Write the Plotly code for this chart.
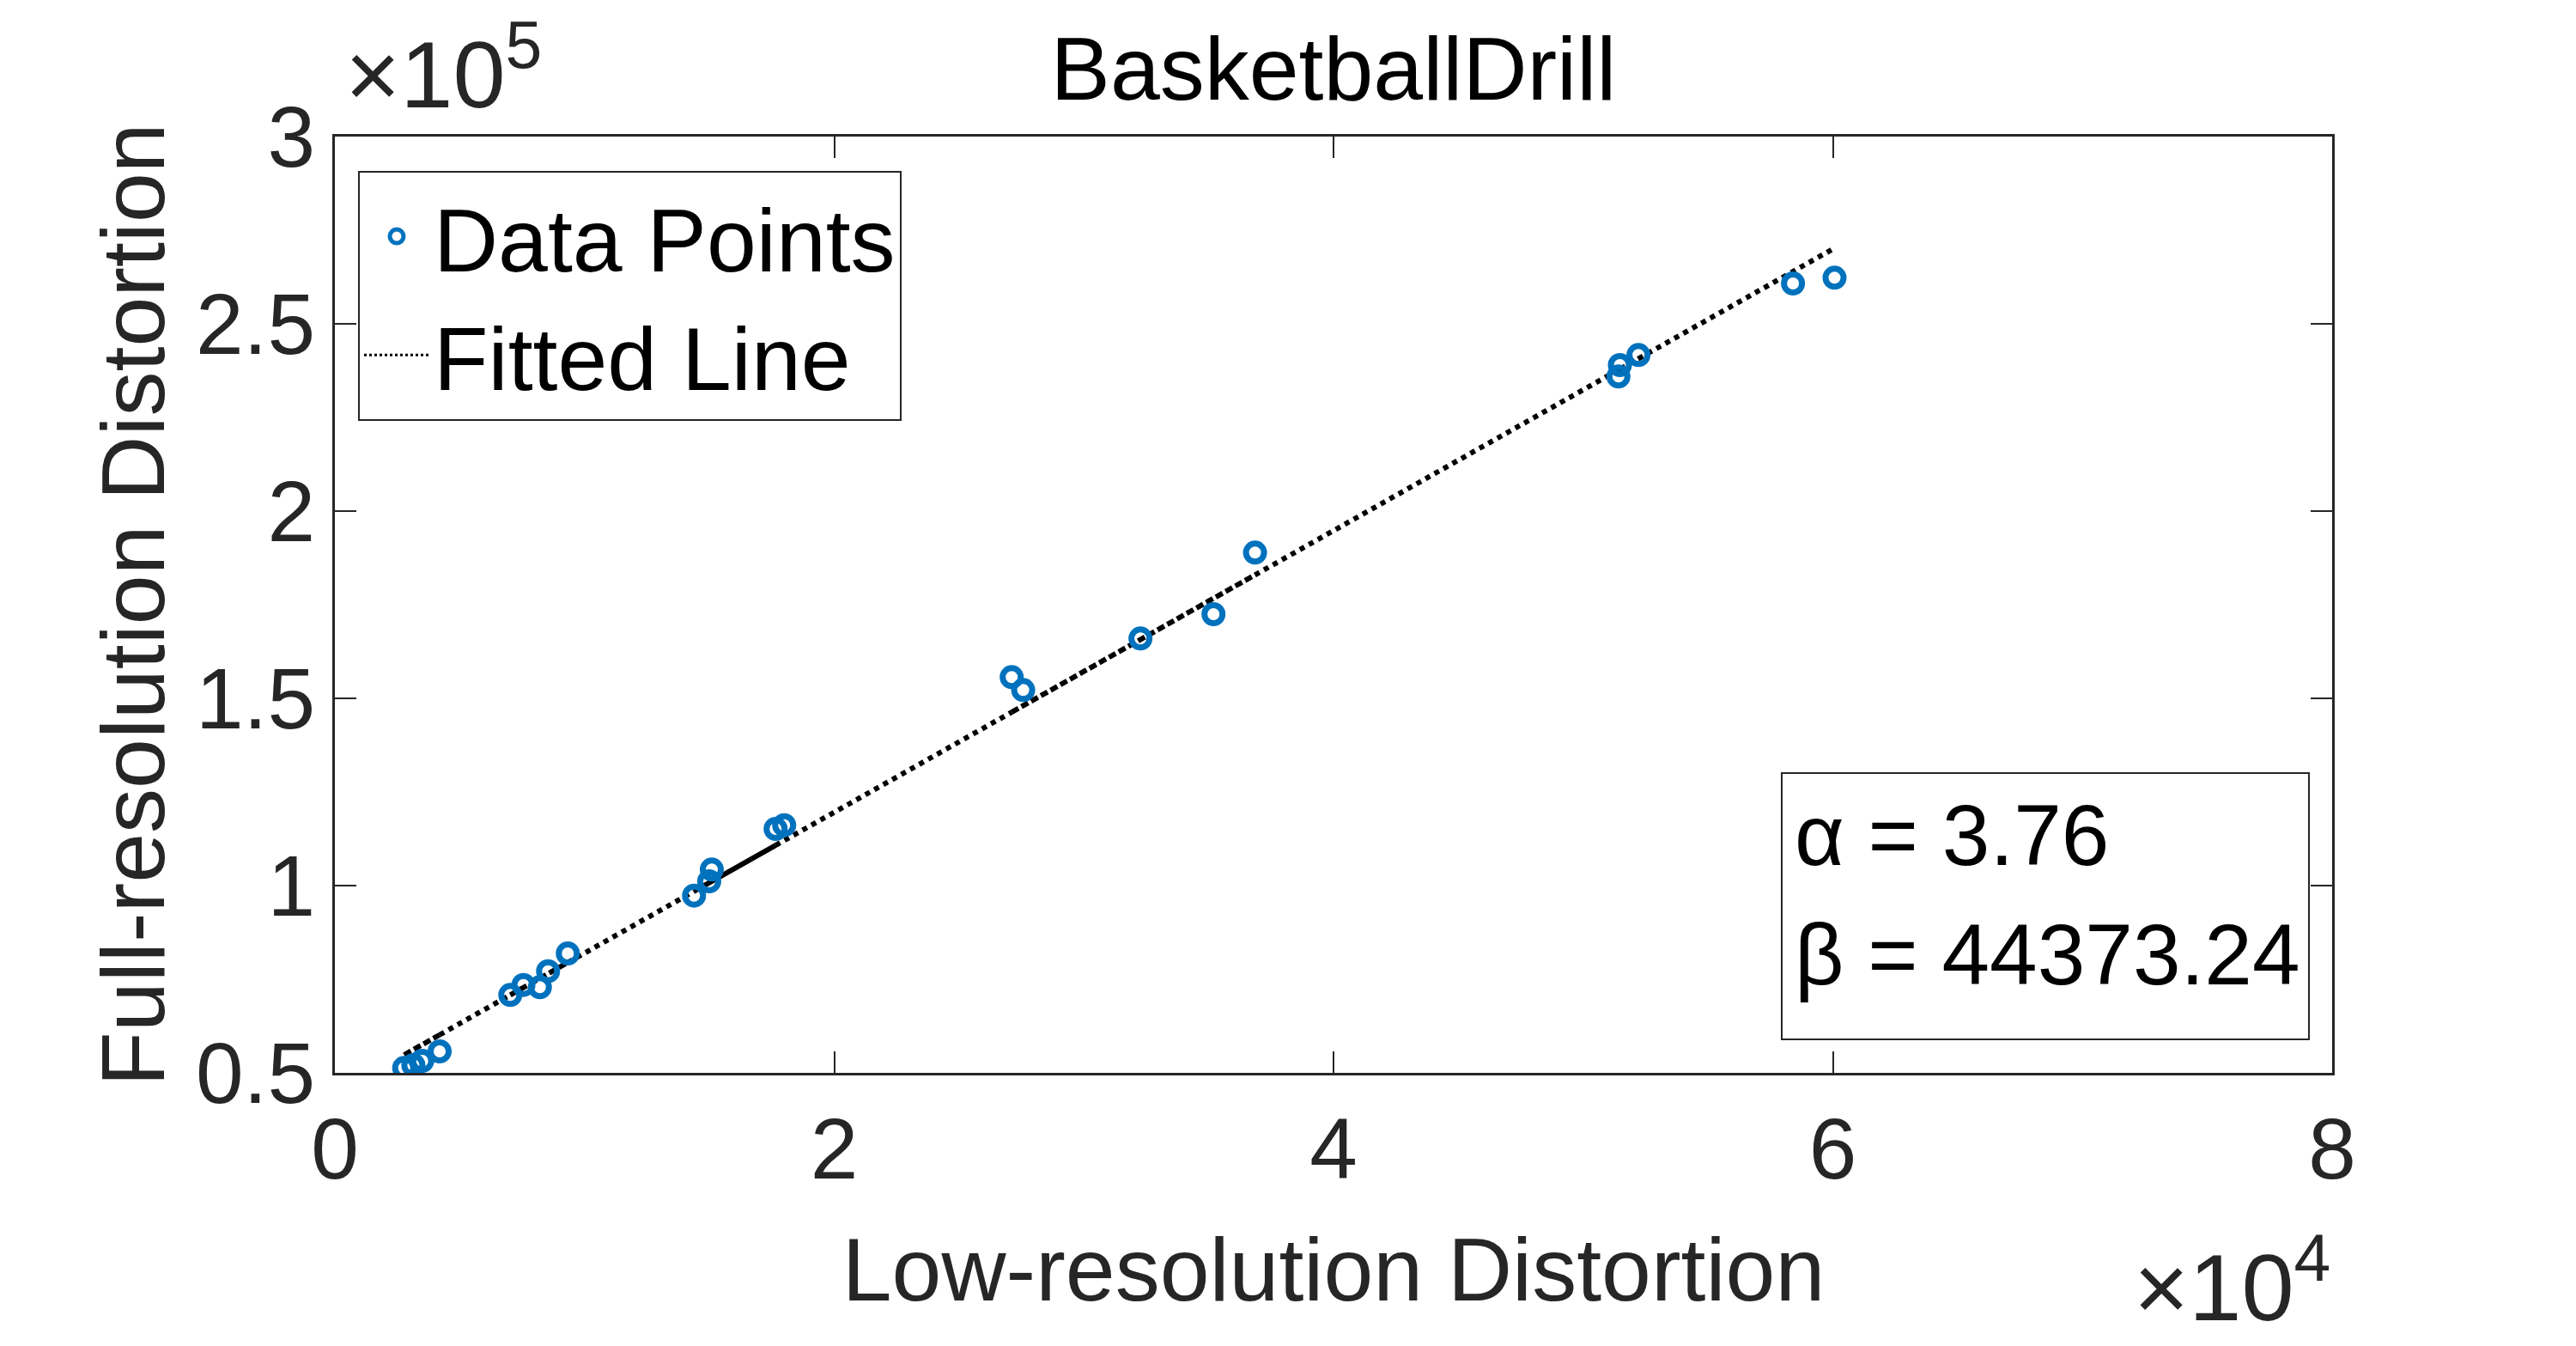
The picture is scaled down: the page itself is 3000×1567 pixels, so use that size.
import plotly.graph_objects as go

# ---- data ----
low_res = [2775, 3143, 3498, 4196, 7026, 7552, 8212, 8539, 9330,
           14386, 14994, 15097, 17653, 17997,
           27110, 27570, 32268, 35192, 36856,
           51413, 51471, 52215, 58405, 60069]
full_res = [51307, 52064, 53211, 55734, 70803, 73463, 72867, 77133, 81881,
            97317, 101147, 104290, 115138, 116124,
            155666, 152226, 165987, 172478, 188924,
            235940, 238993, 241672, 260782, 262318]

alpha = 3.76
beta = 44373.24

# portions of the fitted line that overlap themselves in the original plot
dense_ranges = [(2775, 4196), (7026, 9330), (27110, 36856), (51413, 52215)]
solid_ranges = [(14386, 17653)]

x_ticks = [0, 20000, 40000, 60000, 80000]
x_tick_text = ["0", "2", "4", "6", "8"]
y_ticks = [50000, 100000, 150000, 200000, 250000, 300000]
y_tick_text = ["0.5", "1", "1.5", "2", "2.5", "3"]

title = "BasketballDrill"
x_label = "Low-resolution Distortion"
y_label = "Full-resolution Distortion"
param_lines = ["α = 3.76", "β = 44373.24"]

BLUE = "#0072BD"
AX = "#262626"
FONT = "Liberation Sans, Arial, Helvetica, sans-serif"


def fit(x):
    return alpha * x + beta


fig = go.Figure()

# fitted line drawn piecewise: dotted, denser (self-overlapping) and solid parts
xmin, xmax = min(low_res), max(low_res)
bounds = sorted({xmin, xmax} | {v for r in dense_ranges + solid_ranges for v in r})
for a, b in zip(bounds[:-1], bounds[1:]):
    mid = (a + b) / 2
    if any(lo <= mid <= hi for lo, hi in solid_ranges):
        dash = "solid"
    elif any(lo <= mid <= hi for lo, hi in dense_ranges):
        dash = "9px,4px"
    else:
        dash = "6px,6px"
    fig.add_trace(go.Scatter(x=[a, b], y=[fit(a), fit(b)], mode="lines",
                             line=dict(color="black", width=6, dash=dash),
                             showlegend=False, hoverinfo="skip"))

fig.add_trace(go.Scatter(x=low_res, y=full_res, mode="markers",
                         marker=dict(symbol="circle-open", size=21, color=BLUE,
                                     line=dict(width=7, color=BLUE)),
                         showlegend=False))

# legend-only entries
fig.add_trace(go.Scatter(x=[None], y=[None], mode="markers", name="Data Points",
                         marker=dict(symbol="circle-open", size=16, color=BLUE,
                                     line=dict(width=6, color=BLUE))))
fig.add_trace(go.Scatter(x=[None], y=[None], mode="lines", name="Fitted Line",
                         line=dict(color="black", width=3, dash="3px,3px")))

L, R, T, B = 390, 2716, 159, 1249
W, H = 3000, 1567


def px(xp):
    return (xp - L) / (R - L)


def py(yp):
    return (B - yp) / (B - T)


fig.update_layout(
    width=W, height=H,
    margin=dict(l=L, r=W - R, t=T, b=H - B, pad=0),
    paper_bgcolor="white", plot_bgcolor="white",
    font=dict(family=FONT, color=AX, size=100),
    title=dict(text=title, x=(L + R) / 2 / W, xanchor="center",
               y=1 - 80 / H, yanchor="middle", yref="container",
               font=dict(size=104, color="black")),
    legend=dict(x=px(417), y=py(199),
                xanchor="left", yanchor="top",
                bgcolor="white", bordercolor=AX, borderwidth=2,
                font=dict(size=104, color="black"),
                itemwidth=76, tracegroupgap=0),
    showlegend=True,
)

fig.update_xaxes(range=[0, 80000], tickvals=x_ticks, ticktext=x_tick_text,
                 ticks="inside", ticklen=25, tickwidth=2, tickcolor=AX,
                 showline=True, linecolor=AX, linewidth=3, mirror="ticks",
                 showgrid=False, zeroline=False,
                 tickfont=dict(size=100, color=AX),
                 title=dict(text=x_label, font=dict(size=104, color=AX), standoff=50))
fig.update_yaxes(range=[50000, 300000], tickvals=y_ticks, ticktext=y_tick_text,
                 ticks="inside", ticklen=25, tickwidth=2, tickcolor=AX,
                 showline=True, linecolor=AX, linewidth=3, mirror="ticks",
                 showgrid=False, zeroline=False,
                 tickfont=dict(size=100, color=AX),
                 title=dict(text=y_label, font=dict(size=104, color=AX), standoff=2))

# exponent labels
fig.add_annotation(text="×10<sup>5</sup>", xref="paper", yref="paper",
                   x=px(400), y=py(150),
                   xanchor="left", yanchor="bottom", showarrow=False,
                   font=dict(size=110, color=AX))
fig.add_annotation(text="×10<sup>4</sup>", xref="paper", yref="paper",
                   x=1.0, y=py(1562),
                   xanchor="right", yanchor="bottom", showarrow=False,
                   font=dict(size=110, color=AX))

# parameter box
fig.add_shape(type="rect", xref="paper", yref="paper",
              x0=px(2075), x1=px(2689), y0=py(1210), y1=py(900),
              line=dict(color=AX, width=2), fillcolor="white", layer="above")
for line_text, ymid in zip(param_lines, [972, 1111]):
    fig.add_annotation(text=line_text, xref="paper", yref="paper",
                       x=px(2088), y=py(ymid), xanchor="left", yanchor="middle",
                       showarrow=False, align="left",
                       font=dict(size=100, color="black"))

fig.write_html("out.html")
